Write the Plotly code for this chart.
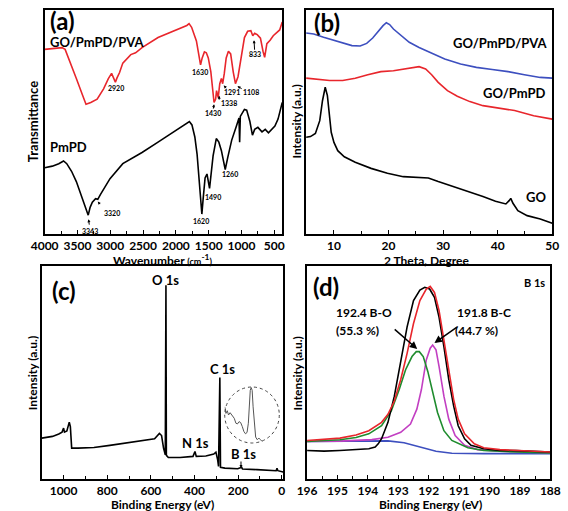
import plotly.graph_objects as go

W, H = 568, 511

# ---------------- (a) FTIR ----------------
pva_wn = [4000, 3736, 3688, 3614, 3517, 3419, 3370, 3297, 3200, 3102, 3029, 2980, 2946, 2922, 2897, 2858,
          2809, 2687, 2614, 2516, 2272, 2028, 1833, 1799, 1760, 1687, 1648, 1624, 1599, 1565, 1536, 1506,
          1467, 1443, 1418, 1394, 1380, 1355, 1331, 1306, 1287, 1262, 1233, 1199, 1165, 1126, 1092, 1053,
          1004, 955, 906, 857, 828, 799, 760, 711, 672, 647, 613, 564, 516, 467, 418, 379]
pva_t = [82.4, 83.2, 82.4, 77.0, 69.4, 61.7, 57.9, 58.7, 60.2, 64.8, 69.4, 71.7, 69.7, 67.8, 69.7, 72.1,
         76.3, 80.1, 80.9, 83.2, 87.7, 90.8, 93.1, 93.9, 92.3, 86.2, 80.1, 75.5, 78.6, 81.3, 80.9, 78.6,
         72.4, 64.8, 58.7, 60.2, 64.0, 60.9, 67.1, 69.4, 67.1, 71.7, 78.6, 81.6, 80.4, 72.4, 67.1, 70.2,
         78.6, 87.7, 90.5, 90.8, 88.5, 89.6, 89.0, 87.4, 81.6, 78.9, 85.0, 86.5, 88.5, 89.6, 91.1, 94.6]

pmpd_wn = [4000, 3883, 3785, 3712, 3663, 3590, 3517, 3444, 3395, 3356, 3336, 3307, 3273, 3224, 3190, 3151,
           3078, 3004, 2809, 2516, 2272, 2028, 1882, 1794, 1755, 1711, 1677, 1648, 1624, 1604, 1584, 1555,
           1526, 1502, 1487, 1467, 1433, 1384, 1345, 1306, 1272, 1248, 1209, 1150, 1077, 1038, 1028, 1018,
           955, 921, 872, 833, 799, 750, 687, 638, 589, 540, 491, 443, 379]
pmpd_t = [29.6, 30.3, 31.4, 32.6, 31.4, 28.0, 23.4, 17.3, 13.5, 10.9, 8.4, 11.9, 14.2, 15.8, 15.5, 17.6,
          21.1, 24.7, 31.4, 36.4, 41.0, 45.6, 48.5, 50.2, 48.7, 43.3, 35.7, 25.0, 12.7, 8.9, 15.8, 25.0,
          26.8, 23.4, 20.4, 25.7, 34.9, 42.6, 41.0, 37.2, 31.9, 28.8, 34.2, 41.8, 48.2, 51.8, 41.0, 52.5,
          55.6, 55.3, 50.2, 44.1, 46.7, 47.6, 45.6, 46.7, 45.2, 46.7, 48.2, 51.3, 58.7]

ftir_peak_labels = ["2920", "1630", "1430", "1338", "1291", "1108", "833", "3343", "3320", "1620", "1490", "1260"]
ftir_peak_wn = [2917, 1638, 1433, 1189, 1150, 860, 799, 3307, 2980, 1614, 1433, 1174]
ftir_peak_t = [65.1, 72.4, 53.8, 58.7, 63.2, 63.2, 80.4, 1.2, 9.3, 5.8, 16.5, 27.0]
# arrows: (tail wn, tail T, tip wn, tip T)
ftir_arrows = [(1433, 55.3, 1418, 57.9), (1340, 59.3, 1340, 61.7), (1209, 64.5, 1272, 66.3),
               (975, 64.5, 1062, 66.0), (799, 81.6, 809, 86.5), (3317, 3.5, 3331, 6.6),
               (3141, 12.7, 3190, 14.5)]

# ---------------- (b) XRD ----------------
xrd_pva_x = [4.9, 6.3, 8.1, 9.8, 11.6, 13.3, 14.8, 16.0, 17.1, 18.1, 19.0, 19.6, 20.2, 20.9, 22.1, 23.8,
             25.6, 27.9, 30.3, 33.2, 36.1, 39.0, 41.9, 44.9, 47.8, 50.0]
xrd_pva_y = [89.7, 89.3, 87.8, 86.6, 85.1, 84.1, 83.9, 85.1, 87.5, 90.5, 93.0, 94.3, 93.5, 91.5, 89.0, 85.6,
             83.3, 80.7, 78.1, 75.9, 74.4, 73.4, 72.5, 71.1, 69.9, 69.6]
xrd_gp_x = [4.9, 6.9, 9.2, 11.6, 13.9, 16.2, 18.6, 20.9, 22.7, 24.4, 25.6, 26.8, 27.9, 29.1, 30.8, 32.6,
            34.9, 37.3, 40.2, 43.1, 46.6, 50.0]
xrd_gp_y = [69.6, 69.0, 68.5, 68.5, 69.5, 71.1, 72.5, 72.9, 73.7, 74.4, 74.7, 73.7, 71.1, 67.7, 64.0, 61.5,
            59.1, 57.3, 56.3, 55.1, 52.8, 51.3]
xrd_go_x = [4.9, 5.7, 6.6, 7.4, 7.9, 8.4, 8.8, 9.1, 9.5, 10.0, 10.7, 11.9, 13.9, 16.8, 19.8, 22.7, 25.6,
            27.3, 29.1, 31.4, 34.4, 37.3, 39.6, 41.5, 42.1, 42.4, 42.8, 43.7, 45.4, 47.8, 50.0]
xrd_go_y = [43.2, 43.5, 44.9, 50.6, 59.5, 65.5, 61.8, 53.6, 45.4, 40.9, 37.2, 34.5, 32.0, 29.3, 27.1, 25.6,
            25.3, 25.0, 23.4, 21.6, 19.0, 16.7, 14.6, 13.4, 14.9, 15.9, 13.7, 10.4, 8.2, 6.7, 4.8]

# ---------------- (c) XPS survey ----------------
survey_be = [1100, 1051, 1022, 1007, 1000, 996, 985, 978, 974, 969, 963, 934, 861, 788, 714, 641, 583, 561,
             551, 542, 534, 531, 529, 520, 466, 407, 398, 392, 348, 312, 302, 294, 290, 284, 281, 261, 202,
             184, 180, 114, 26, 22, 18, -6]
survey_i = [19.2, 20.0, 21.1, 22.0, 23.9, 22.0, 22.6, 25.4, 26.7, 24.6, 14.5, 14.5, 14.8, 15.8, 16.8, 17.9,
            18.9, 21.4, 20.4, 14.5, 11.4, 91.0, 11.1, 10.1, 10.1, 10.6, 12.9, 10.6, 10.8, 11.7, 12.6, 9.0,
            5.9, 47.6, 5.5, 5.1, 4.8, 5.5, 4.7, 4.4, 3.9, 5.1, 3.9, 3.3]
inset_u = [0, 2.3, 4.7, 7.0, 9.9, 13.5, 17.5, 20.5, 23.4, 26.3, 29.2, 32.2, 35.1, 38.0, 40.9, 43.3, 45.0,
           46.8, 48.5, 50.3, 52.0, 54.4, 56.7, 59.6, 62.6, 65.5, 68.4]
inset_v = [64.7, 52.9, 57.6, 50.0, 54.1, 48.2, 44.1, 35.3, 34.1, 38.2, 36.5, 29.4, 20.6, 16.5, 18.8, 35.3,
           64.7, 94.1, 99.0, 94.1, 64.7, 29.4, 10.6, 5.9, 8.8, 5.9, 2.9]

# ---------------- (d) B 1s ----------------
raw_be = [196.0, 195.44, 194.92, 194.39, 193.97, 193.76, 193.66, 193.55, 193.34, 193.13, 192.92, 192.71,
          192.50, 192.29, 192.13, 191.97, 191.81, 191.66, 191.50, 191.34, 191.18, 191.03, 190.82, 190.61,
          190.19, 189.66, 189.13, 188.61, 188.0]
raw_i = [13.4, 13.1, 13.4, 13.8, 14.2, 15.0, 16.5, 18.9, 26.6, 38.9, 54.4, 71.4, 83.8, 88.7, 90.0, 89.2,
         85.3, 76.0, 62.1, 46.7, 34.3, 25.0, 18.9, 15.8, 14.2, 13.4, 13.3, 13.1, 12.7]
env_be = [196.0, 195.44, 194.92, 194.39, 193.97, 193.55, 193.34, 193.13, 192.92, 192.71, 192.50, 192.29,
          192.08, 191.95, 191.81, 191.66, 191.50, 191.34, 191.18, 191.03, 190.82, 190.50, 190.19, 189.66,
          189.13, 188.61, 188.0]
env_i = [18.1, 18.5, 19.2, 20.7, 22.7, 26.6, 30.4, 36.6, 46.7, 59.0, 73.0, 83.8, 89.2, 90.4, 87.6, 79.1,
         65.2, 49.8, 37.4, 28.1, 21.2, 16.5, 14.7, 13.8, 13.4, 13.3, 12.7]
bo_be = [196.0, 195.44, 194.92, 194.39, 193.97, 193.55, 193.23, 192.97, 192.76, 192.55, 192.41, 192.31,
         192.18, 192.03, 191.87, 191.71, 191.50, 191.24, 190.71, 190.19, 189.13, 188.0]
bo_i = [17.6, 17.9, 18.4, 19.5, 21.2, 25.0, 32.0, 42.0, 51.3, 57.5, 59.8, 59.8, 57.5, 50.5, 40.5, 31.2,
        22.7, 18.1, 14.7, 13.4, 12.7, 12.2]
bc_be = [196.0, 194.92, 193.87, 193.34, 192.92, 192.60, 192.39, 192.24, 192.08, 191.95, 191.87, 191.76,
         191.66, 191.50, 191.34, 191.13, 190.82, 190.40, 189.66, 188.0]
bc_i = [17.6, 17.8, 18.5, 19.6, 21.9, 25.8, 32.8, 42.0, 55.9, 61.4, 62.9, 60.6, 52.9, 38.9, 28.1, 20.4,
        15.8, 13.8, 13.0, 12.4]
bg_be = [196.0, 194.92, 193.87, 193.34, 192.81, 192.29, 191.76, 191.24, 190.19, 188.0]
bg_i = [17.6, 17.8, 18.1, 17.9, 17.0, 15.0, 13.0, 12.1, 11.9, 11.9]

RED = "#e8262c"
BLUE = "#3d4fbf"
GREEN = "#1f8c2e"
MAGENTA = "#c23fc2"
FONT = "Lato"

def px(x):
    return x / W

def py(y):
    return 1 - y / H

fig = go.Figure()
LW = 1.6

# (a)
fig.add_trace(go.Scatter(x=pva_wn, y=pva_t, mode="lines", line=dict(color=RED, width=LW), xaxis="x", yaxis="y"))
fig.add_trace(go.Scatter(x=pmpd_wn, y=pmpd_t, mode="lines", line=dict(color="black", width=LW), xaxis="x", yaxis="y"))
# (b)
fig.add_trace(go.Scatter(x=xrd_pva_x, y=xrd_pva_y, mode="lines", line=dict(color=BLUE, width=LW), xaxis="x2", yaxis="y2"))
fig.add_trace(go.Scatter(x=xrd_gp_x, y=xrd_gp_y, mode="lines", line=dict(color=RED, width=LW), xaxis="x2", yaxis="y2"))
fig.add_trace(go.Scatter(x=xrd_go_x, y=xrd_go_y, mode="lines", line=dict(color="black", width=LW), xaxis="x2", yaxis="y2"))
# (c)
fig.add_trace(go.Scatter(x=survey_be, y=survey_i, mode="lines", line=dict(color="black", width=LW), xaxis="x3", yaxis="y3"))
fig.add_trace(go.Scatter(x=inset_u, y=inset_v, mode="lines", line=dict(color="#555555", width=1), xaxis="x5", yaxis="y5"))
# (d)
fig.add_trace(go.Scatter(x=bg_be, y=bg_i, mode="lines", line=dict(color=BLUE, width=LW), xaxis="x4", yaxis="y4"))
fig.add_trace(go.Scatter(x=bc_be, y=bc_i, mode="lines", line=dict(color=MAGENTA, width=LW), xaxis="x4", yaxis="y4"))
fig.add_trace(go.Scatter(x=bo_be, y=bo_i, mode="lines", line=dict(color=GREEN, width=LW), xaxis="x4", yaxis="y4"))
fig.add_trace(go.Scatter(x=raw_be, y=raw_i, mode="lines", line=dict(color="black", width=LW), xaxis="x4", yaxis="y4"))
fig.add_trace(go.Scatter(x=env_be, y=env_i, mode="lines", line=dict(color=RED, width=LW), xaxis="x4", yaxis="y4"))

tickfont = dict(family=FONT, size=12, color="black", weight="bold")

def xax(domain, rng, tickvals, minor_dtick, anchor):
    return dict(domain=domain, range=rng, tickvals=tickvals, ticks="inside", ticklen=4, tickwidth=1,
                tickcolor="black", showline=True, linecolor="black", linewidth=1.5, mirror=True,
                showgrid=False, zeroline=False, tickfont=tickfont, anchor=anchor, ticklabelstandoff=0,
                minor=dict(dtick=minor_dtick, ticks="inside", ticklen=3, tickcolor="black", showgrid=False))

def yax(domain, anchor):
    return dict(domain=domain, range=[0, 100], showticklabels=False, ticks="", showline=True,
                linecolor="black", linewidth=1.5, mirror=True, showgrid=False, zeroline=False, anchor=anchor)

ya_dom = [py(234), py(10)]
yc_dom = [py(479), py(266)]

fig.update_layout(
    width=W, height=H, margin=dict(l=0, r=0, t=0, b=0), showlegend=False,
    paper_bgcolor="white", plot_bgcolor="white",
    font=dict(family=FONT, color="black"),
    xaxis=xax([px(32), px(280)], [4000, 380], [4000, 3500, 3000, 2500, 2000, 1500, 1000, 500], 250, "y"),
    yaxis=yax(ya_dom, "x"),
    xaxis2=xax([px(305), px(562)], [4.9, 50], [10, 20, 30, 40, 50], 5, "y2"),
    yaxis2=yax(ya_dom, "x2"),
    xaxis3=xax([px(29), px(281)], [1100, -6], [1000, 800, 600, 400, 200, 0], 100, "y3"),
    yaxis3=yax(yc_dom, "x3"),
    xaxis4=xax([px(306), px(560)], [196, 188], [196, 195, 194, 193, 192, 191, 190, 189, 188], 0.5, "y4"),
    yaxis4=yax(yc_dom, "x4"),
    xaxis5=dict(domain=[px(220), px(277)], range=[0, 100], visible=False, anchor="y5"),
    yaxis5=dict(domain=[py(443), py(387)], range=[0, 100], visible=False, anchor="x5"),
)

# inset circle
fig.add_shape(type="circle", xref="paper", yref="paper", x0=px(220), x1=px(277), y0=py(443), y1=py(387),
              line=dict(color="#444444", width=1, dash="dot"))

def text(x, y, s, size=13, xanchor="center", angle=0):
    fig.add_annotation(x=px(x), y=py(y), xref="paper", yref="paper", text=s, showarrow=False,
                       xanchor=xanchor, yanchor="middle", textangle=angle,
                       font=dict(family=FONT, size=size, color="black", weight="bold"))

def arrow(x_tip, y_tip, x_tail, y_tail, width=1.5, size=1.0):
    fig.add_annotation(x=px(x_tip), y=py(y_tip), xref="paper", yref="paper",
                       ax=x_tail - x_tip, ay=y_tail - y_tip, text="", showarrow=True,
                       arrowhead=2, arrowsize=size, arrowwidth=width, arrowcolor="black")

# panel letters
text(51, 21, "(a)", 24)
text(327, 22, "(b)", 24)
text(52, 290, "(c)", 24)
text(326, 286, "(d)", 24)

# axis titles
text(155, 260, "Wavenumber <span style='font-size:9px'>(cm</span><sup>-1</sup><span style='font-size:9px'>)</span>", 12)
text(431, 260, "2 Theta, Degree", 12)
text(155, 504, "Binding Energy (eV)", 12)
text(435, 504, "Binding Energy (eV)", 12)
text(20, 122, "Transmittance", 13, angle=-90)
text(294, 122, "Intensity (a.u.)", 12, angle=-90)
text(19, 373, "Intensity (a.u.)", 12, angle=-90)
text(296, 373, "Intensity (a.u.)", 12, angle=-90)

# (a) curve labels
text(35, 42, "GO/PmPD/PVA", 13, xanchor="left")
text(35, 147, "PmPD", 13, xanchor="left")
for lab, wn, t in zip(ftir_peak_labels, ftir_peak_wn, ftir_peak_t):
    fig.add_annotation(x=wn, y=t, xref="x", yref="y", text=lab, showarrow=False,
                       font=dict(family=FONT, size=7, color="black", weight="bold"))
for (x0, y0, x1, y1) in ftir_arrows:
    fig.add_annotation(x=x1, y=y1, ax=x0, ay=y0, xref="x", yref="y", axref="x", ayref="y", text="",
                       showarrow=True, arrowhead=2, arrowsize=0.6, arrowwidth=1, arrowcolor="black")

# (b) labels
text(559, 43, "GO/PmPD/PVA", 13, xanchor="right")
text(558, 93, "GO/PmPD", 13, xanchor="right")
text(545, 197, "GO", 13)

# (c) labels
text(158, 280, "O 1s", 13)
text(218, 369, "C 1s", 13)
text(190, 443, "N 1s", 13)
text(240, 454, "B 1s", 13)
arrow(237, 468, 237, 460, width=1, size=0.6)

# (d) labels
text(557, 282, "B 1s", 11, xanchor="right")
text(334, 312, "192.4 B-O", 12, xanchor="left")
text(334, 330, "(55.3 %)", 12, xanchor="left")
text(460, 312, "191.8 B-C", 12, xanchor="left")
text(458, 330, "(44.7 %)", 12, xanchor="left")
arrow(421, 349, 397, 328)
arrow(439, 343, 463, 326)

fig.write_html("out.html", config={"displayModeBar": False},
               post_script="document.body.style.margin='0';")
